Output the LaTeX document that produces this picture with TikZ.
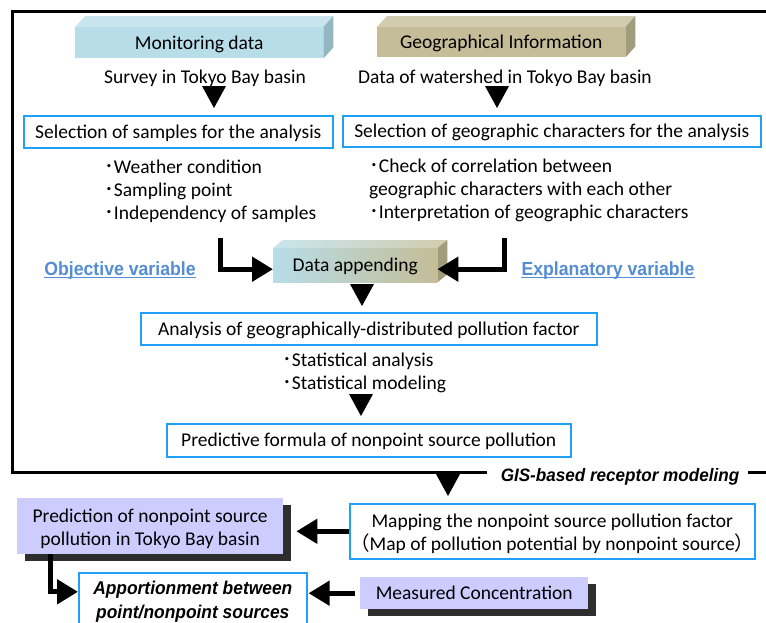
\documentclass[tikz,border=0pt]{standalone}
\usepackage{fontspec}
\setmainfont{Carlito}
\newfontfamily\cjk{Noto Sans CJK JP}
\newfontfamily\lsans{Liberation Sans}
\usetikzlibrary{arrows.meta,shadows}
\definecolor{mdfront}{HTML}{B7DDE8}
\definecolor{mdtop}{HTML}{C8E5ED}
\definecolor{mdside}{HTML}{92B7C1}
\definecolor{gifront}{HTML}{C4BD97}
\definecolor{gitop}{HTML}{D2CCAE}
\definecolor{giside}{HTML}{A19C7B}
\definecolor{boxblue}{RGB}{30,160,245}
\definecolor{varblue}{HTML}{548DD4}
\definecolor{lav}{HTML}{CCCCFF}
\definecolor{shad}{HTML}{2E2E2E}
\newcommand\bul{{\cjk ･}}
\newcommand\lowr[1]{\raisebox{-3pt}[\height][\depth]{#1}}
\begin{document}
\begin{tikzpicture}[x=1pt,y=-1pt,
  font=\fontsize{19.5}{23}\selectfont,
  bluebox/.style={draw=boxblue, line width=1.6pt, fill=white, inner sep=0pt, anchor=north west, align=center},
  facebox/.style={inner sep=0pt, anchor=north west},
  txt/.style={inner sep=0pt},
  onel/.style={text height=15pt, text depth=2pt},
  thickarrow/.style={line width=5pt, -{Triangle[length=21pt,width=24pt]}},
  downtri/.pic={\fill (-12,0) -- (12,0) -- (0,22) -- cycle;},
  lavbox/.style={fill=lav, inner sep=0pt, anchor=north west, align=center,
    drop shadow={shadow xshift=8pt, shadow yshift=-7pt, fill=shad, opacity=1}},
  varlabel/.style={txt, anchor=base, text=varblue, font=\lsans\bfseries\fontsize{19}{22}\selectfont},
]
\useasboundingbox (0,0) rectangle (766,622);

% outer frame
\draw[line width=3pt] (487,472) -- (12,472) -- (12,11) -- (780,11);
\draw[line width=3pt] (748,472) -- (780,472);
\node[txt] (gis) at (620,477) {\scalebox{0.95}[1]{\lsans\bfseries\itshape\fontsize{18}{20}\selectfont GIS-based receptor modeling}};

% 3D header boxes
\node[facebox, onel, fill=mdfront, minimum width=248pt, minimum height=31pt] (md) at (75,27) {Monitoring data\hspace{14pt}};
\fill[mdtop] (md.north west) -- ++(10,-11) -- ([shift={(10,-11)}]md.north east) -- (md.north east) -- cycle;
\fill[mdside] (md.north east) -- ++(10,-11) -- ([shift={(10,-11)}]md.south east) -- (md.south east) -- cycle;

\node[facebox, onel, fill=gifront, minimum width=248pt, minimum height=30pt] (gi) at (377,27) {Geographical Information\hspace{8pt}};
\fill[gitop] (gi.north west) -- ++(10,-11) -- ([shift={(10,-11)}]gi.north east) -- (gi.north east) -- cycle;
\fill[giside] (gi.north east) -- ++(10,-11) -- ([shift={(10,-11)}]gi.south east) -- (gi.south east) -- cycle;

\node[txt, onel] (survey) at (205,77) {Survey in Tokyo Bay basin};
\node[txt, onel] (wshed) at (505,77) {Data of watershed in Tokyo Bay basin};
\pic at (214,86) {downtri};
\pic at (497,86) {downtri};

\node[bluebox, onel, minimum width=309pt, minimum height=32pt] (sel1) at (23,115) {Selection of samples for the analysis};
\node[bluebox, onel, minimum width=418pt, minimum height=31pt] (sel2) at (342,115) {Selection of geographic characters for the analysis};

\node[txt, anchor=west, align=left] (bl) at (104,191) {\bul Weather condition\\\bul Sampling point\\\bul Independency of samples};
\node[txt, anchor=west, align=left] (br) at (369,190) {\bul Check of correlation between\\geographic characters with each other\\\bul Interpretation of geographic characters};

% data appending
\node[facebox, onel, left color=mdfront, right color=gifront, minimum width=164pt, minimum height=34pt] (da) at (273,248) {Data appending};
\shade[left color=mdtop, right color=gitop] (da.north west) -- ++(10,-8) -- ([shift={(10,-8)}]da.north east) -- (da.north east) -- cycle;
\fill[giside] (da.north east) -- ++(10,-8) -- ([shift={(10,-8)}]da.south east) -- (da.south east) -- cycle;

\coordinate (lc) at (220,238);
\coordinate (rc) at (504,238);
\draw[thickarrow] (lc) |- ([yshift=-4pt]da.west);
\draw[thickarrow] (rc) |- ([yshift=-4pt]da.east);

\node[varlabel] (ov) at (120,275) {\scalebox{0.93}[1]{Objective variable}};
\node[varlabel] (ev) at (608,275) {\scalebox{0.93}[1]{Explanatory variable}};
\draw[varblue, line width=1.3pt] ([yshift=-2.5pt]ov.base west) -- ([yshift=-2.5pt]ov.base east);
\draw[varblue, line width=1.3pt] ([yshift=-2.5pt]ev.base west) -- ([yshift=-2.5pt]ev.base east);

\pic at (362,284) {downtri};
\node[bluebox, onel, minimum width=456pt, minimum height=32pt] (anal) at (140,312) {Analysis of geographically-distributed pollution factor};
\node[txt, anchor=west, align=left] (st) at (282,373) {\bul Statistical analysis\\\bul Statistical modeling};
\pic at (361,394) {downtri};
\node[bluebox, onel, minimum width=404pt, minimum height=33pt] (pf) at (166,423) {Predictive formula of nonpoint source pollution};

% lower part
\pic at (448,474) {downtri};
\node[bluebox, minimum width=405pt, minimum height=55pt] (map) at (349,503) {\lowr{\begin{tabular}{@{}c@{}}Mapping the nonpoint source pollution factor\\{\cjk （}Map of pollution potential by nonpoint source{\cjk ）}\end{tabular}}};
\node[lavbox, minimum width=266pt, minimum height=56pt] (pred) at (17,498) {\lowr{\begin{tabular}{@{}c@{}}Prediction of nonpoint source\\pollution in Tokyo Bay basin\end{tabular}}};
\node[bluebox, minimum width=228pt, minimum height=58pt] (app) at (78,572) {\scalebox{0.94}[1]{\lsans\bfseries\itshape\fontsize{18.5}{24}\selectfont\begin{tabular}{@{}c@{}}Apportionment between\\point/nonpoint sources\end{tabular}}};
\node[lavbox, onel, minimum width=228pt, minimum height=32pt] (meas) at (360,577) {Measured Concentration};

\draw[thickarrow, shorten >=13pt] (map.west) -- (map.west -| pred.east);
\draw[thickarrow] ([xshift=33pt]pred.south west) |- ([yshift=10pt]app.west);
\draw[thickarrow, shorten >=1pt] ([xshift=-5pt]meas.west) -- (meas.west -| app.east);
\end{tikzpicture}
\end{document}
